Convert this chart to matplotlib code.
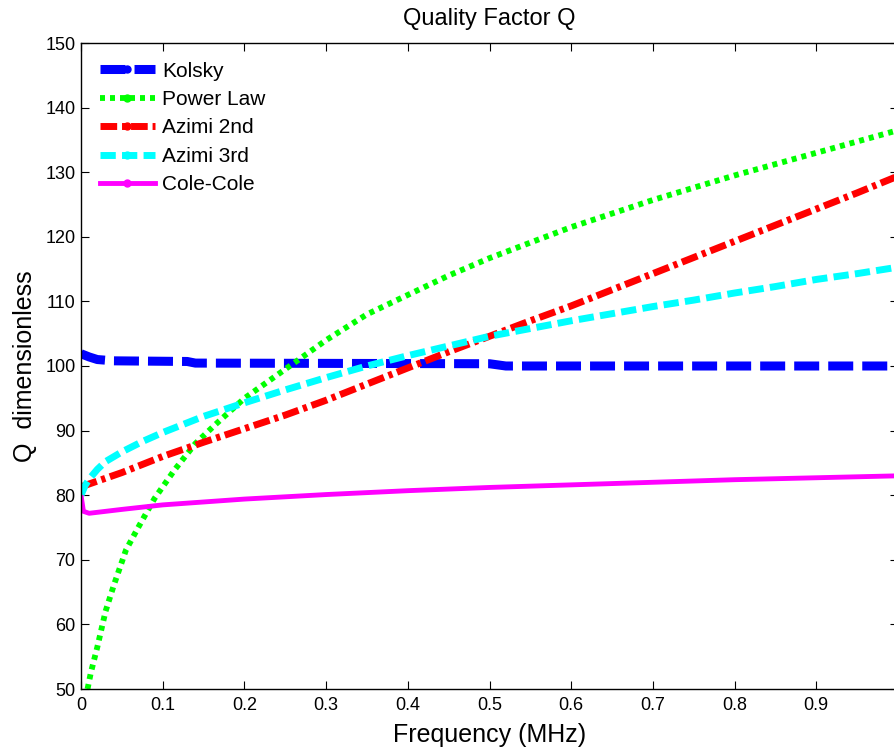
import matplotlib
matplotlib.use('Agg')
import matplotlib.pyplot as plt
from matplotlib.lines import Line2D

plt.rcParams['font.family'] = ['Liberation Sans', 'DejaVu Sans']
plt.rcParams['lines.scale_dashes'] = False

# Kolsky
f_kol = [0, 0.01, 0.02, 0.04, 0.13, 0.14, 0.5, 0.52, 1.0]
q_kol = [101.9, 101.4, 101.0, 100.8, 100.7, 100.45, 100.35, 100.0, 100.0]

# Power law
f_pow = [0.008, 0.012, 0.02, 0.03, 0.04, 0.055, 0.07, 0.09, 0.115, 0.14, 0.165,
         0.2, 0.25, 0.3, 0.35, 0.4, 0.45, 0.5, 0.6, 0.7, 0.8, 0.9, 1.0]
q_pow = [50, 52.5, 56.5, 62, 66, 71.5, 75, 79.5, 84, 88, 91,
         95, 99.5, 104, 108, 111, 114, 116.7, 121.5, 125.7, 129.5, 133, 136.5]

# Azimi 2nd
f_az2 = [0, 0.05, 0.1, 0.15, 0.2, 0.25, 0.3, 0.35, 0.4, 0.45, 0.5,
         0.55, 0.6, 0.65, 0.7, 0.75, 0.8, 0.85, 0.9, 0.95, 1.0]
q_az2 = [81.3, 83.5, 86.0, 88.2, 90.3, 92.4, 94.7, 97.2, 99.7, 102.2, 104.6,
         107.0, 109.3, 111.8, 114.3, 116.8, 119.3, 121.8, 124.3, 126.8, 129.4]

# Azimi 3rd
f_az3 = [0, 0.005, 0.01, 0.02, 0.03, 0.05, 0.075, 0.1, 0.15, 0.2, 0.25, 0.3,
         0.35, 0.4, 0.45, 0.5, 0.55, 0.6, 0.65, 0.7, 0.75, 0.8, 0.85, 0.9, 0.95, 1.0]
q_az3 = [80, 81.5, 82.5, 84, 85.2, 86.7, 88.3, 89.7, 92.2, 94.3, 96.3, 98.2,
         100, 101.6, 103.1, 104.6, 105.8, 107, 108.1, 109.2, 110.2, 111.3, 112.3, 113.4, 114.3, 115.3]

# Cole-Cole
f_cc = [0, 0.003, 0.01, 0.05, 0.1, 0.2, 0.3, 0.4, 0.5, 0.6, 0.7, 0.8, 0.9, 1.0]
q_cc = [80, 77.5, 77.2, 77.8, 78.5, 79.4, 80.1, 80.7, 81.2, 81.6, 82.0, 82.4, 82.7, 83.0]

names = ['Kolsky', 'Power Law', 'Azimi 2nd', 'Azimi 3rd', 'Cole-Cole']
colors = ['#0000ff', '#00ff00', '#ff0000', '#00ffff', '#ff00ff']
widths = [6.5, 4.2, 5, 5, 3.5]
dashes = [(18, 6.5), (3.6, 3.6), (12, 3.5, 3, 3.5), (11, 4.5), None]

fig = plt.figure(figsize=(8.94, 7.49), dpi=100)
ax = fig.add_axes([81 / 894, 60 / 749, 817 / 894, 646 / 749])

series = [(f_kol, q_kol), (f_pow, q_pow), (f_az2, q_az2), (f_az3, q_az3), (f_cc, q_cc)]
handles = []
for (x, y), name, c, lw, d in zip(series, names, colors, widths, dashes):
    if d is None:
        ax.plot(x, y, color=c, lw=lw, solid_capstyle='butt')
    else:
        ax.plot(x, y, color=c, lw=lw, dashes=d, dash_capstyle='butt')
    h = Line2D([], [], color=c, lw=lw, marker='o', markersize=5,
               dash_capstyle='butt', label=name)
    if d is not None:
        h.set_dashes(d)
    handles.append(h)

ax.set_xlim(0, 1)
ax.set_ylim(50, 150)
ax.set_xticks([0, 0.1, 0.2, 0.3, 0.4, 0.5, 0.6, 0.7, 0.8, 0.9])
ax.set_xticklabels(['0', '0.1', '0.2', '0.3', '0.4', '0.5', '0.6', '0.7', '0.8', '0.9'])
ax.set_yticks(range(50, 151, 10))
ax.tick_params(direction='in', length=6, width=0.8, labelsize=13,
               top=True, right=True)
ax.tick_params(axis='y', pad=4)
ax.tick_params(axis='x', pad=6)
for s in ax.spines.values():
    s.set_linewidth(1.0)

ax.set_title('Quality Factor Q', fontsize=17, pad=13)
ax.set_xlabel('Frequency (MHz)', fontsize=18, labelpad=6)
ax.set_ylabel('Q  dimensionless', fontsize=18, labelpad=6)

ax.legend(handles=handles, loc='upper left', frameon=False, fontsize=15,
          handlelength=2.65, handletextpad=0.35, labelspacing=0.45,
          borderaxespad=0.5)

fig.savefig('out.png', dpi=100)
